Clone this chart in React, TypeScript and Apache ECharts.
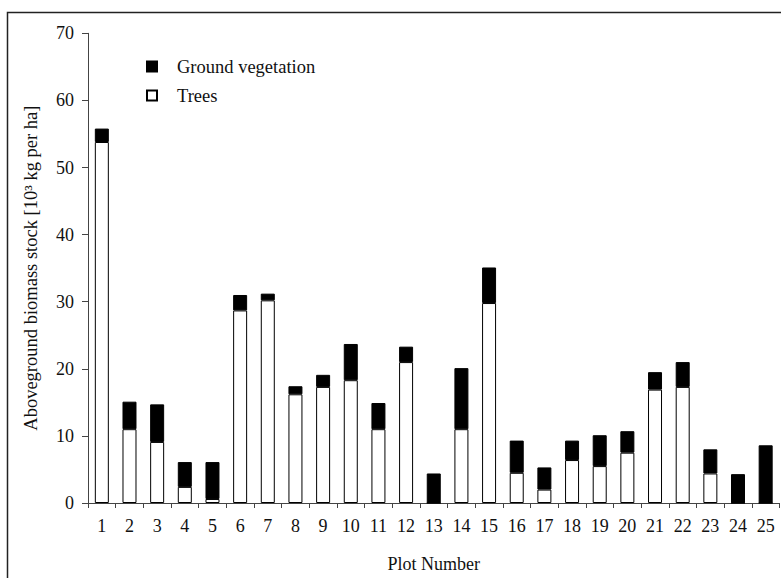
import React, { useEffect, useRef } from "react";
import * as echarts from "echarts";

const plots = ["1","2","3","4","5","6","7","8","9","10","11","12","13","14","15","16","17","18","19","20","21","22","23","24","25"];
const trees = [53.8, 11.0, 9.1, 2.4, 0.6, 28.7, 30.2, 16.2, 17.3, 18.3, 11.0, 21.0, 0, 11.0, 29.8, 4.5, 2.0, 6.4, 5.5, 7.5, 16.9, 17.3, 4.4, 0, 0];
const ground = [2.0, 4.1, 5.6, 3.7, 5.5, 2.3, 1.0, 1.2, 1.8, 5.4, 3.9, 2.3, 4.4, 9.1, 5.3, 4.8, 3.3, 2.9, 4.6, 3.2, 2.6, 3.7, 3.6, 4.3, 8.6];
const yTicks = { min: 0, max: 70, interval: 10 };

const FONT = "'Liberation Serif', 'Times New Roman', serif";

export default function App() {
  const ref = useRef<HTMLDivElement>(null);
  useEffect(() => {
    if (!ref.current) return;
    const chart = echarts.init(ref.current, undefined, { renderer: "svg" });
    chart.setOption({
      animation: false,
      backgroundColor: "#fff",
      textStyle: { fontFamily: FONT, color: "#111" },
      graphic: [
        {
          type: "rect",
          shape: { x: 7.5, y: 12.5, width: 800, height: 600 },
          style: { fill: "none", stroke: "#222", lineWidth: 1.5 },
          silent: true,
        },
      ],
      legend: {
        orient: "vertical",
        left: 141,
        top: 52,
        itemWidth: 10,
        itemHeight: 10,
        itemGap: 10,
        icon: "rect",
        data: ["Ground vegetation", "Trees"],
        textStyle: { fontFamily: FONT, fontSize: 18.5, color: "#111", padding: [0, 0, 0, 15] },
      },
      grid: { left: 88, right: 1.5, top: 33.3, bottom: 75, containLabel: false },
      xAxis: {
        type: "category",
        data: plots,
        name: "Plot Number",
        nameLocation: "middle",
        nameGap: 52,
        nameTextStyle: { fontFamily: FONT, fontSize: 18, color: "#111" },
        axisLine: { lineStyle: { color: "#444", width: 1 } },
        axisTick: { show: true, length: 5, interval: 0, lineStyle: { color: "#444" } },
        axisLabel: { interval: 0, fontFamily: FONT, fontSize: 18, color: "#111", margin: 14 },
      },
      yAxis: {
        type: "value",
        min: yTicks.min,
        max: yTicks.max,
        interval: yTicks.interval,
        name: "Aboveground biomass stock [10³ kg per ha]",
        nameLocation: "middle",
        nameGap: 48,
        nameTextStyle: { fontFamily: FONT, fontSize: 18.5, color: "#111" },
        axisLine: { show: true, lineStyle: { color: "#444", width: 1 } },
        axisTick: { show: true, length: 6, lineStyle: { color: "#444" } },
        axisLabel: { fontFamily: FONT, fontSize: 18, color: "#111", margin: 14 },
        splitLine: { show: false },
      },
      series: [
        {
          name: "Trees",
          type: "bar",
          stack: "total",
          barWidth: 14,
          data: trees,
          itemStyle: { color: "#fff", borderColor: "#000", borderWidth: 1 },
        },
        {
          name: "Ground vegetation",
          type: "bar",
          stack: "total",
          barWidth: 14,
          data: ground,
          itemStyle: { color: "#000", borderColor: "#000", borderWidth: 1 },
        },
      ],
    });
    return () => chart.dispose();
  }, []);
  return (
    <div
      ref={ref}
      style={{ position: "absolute", left: 0, top: 0, width: 781, height: 578 }}
    />
  );
}
